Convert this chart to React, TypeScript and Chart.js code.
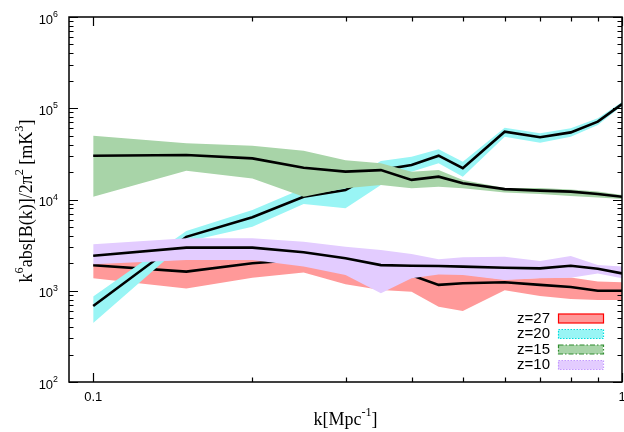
import React, { useEffect, useRef } from "react";
import { Chart, registerables } from "chart.js";

Chart.register(...registerables);

// k values [Mpc^-1]
const kValues = [0.1, 0.15, 0.2, 0.25, 0.3, 0.35, 0.4, 0.45, 0.5, 0.6, 0.7, 0.8, 0.9, 1.0];

// z = 27
const z27Upper = [2000, 2200, 2200, 2400, 2100, 1800, 1600, 1550, 1520, 1330, 1380, 1400, 1260, 1240];
const z27Mid = [1900, 1620, 2000, 2200, 1900, 1600, 1480, 1160, 1210, 1240, 1160, 1100, 1000, 1000];
const z27Lower = [1370, 1060, 1390, 1580, 1180, 1020, 977, 668, 600, 1010, 875, 813, 792, 792];

// z = 20
const z20Upper = [865, 4520, 7670, 13300, 15700, 26400, 29400, 35500, 25900, 61200, 53100, 60200, 77600, 117000];
const z20Mid = [680, 3900, 6380, 10700, 12700, 21000, 23900, 30200, 22000, 55300, 48100, 54400, 71300, 111000];
const z20Lower = [443, 3450, 5030, 8930, 8020, 14400, 20200, 24900, 17800, 48800, 41900, 48800, 65500, 106000];

// z = 15
const z15Upper = [50000, 41300, 38900, 34300, 27000, 24900, 20200, 21000, 16400, 13400, 13400, 12900, 12200, 11200];
const z15Mid = [30200, 30700, 28200, 22300, 20200, 21000, 16400, 17800, 15100, 13000, 12500, 12200, 11500, 10700];
const z15Lower = [10700, 20700, 17000, 10700, 13300, 14400, 13300, 13800, 13300, 11900, 11500, 10900, 10500, 10100];

// z = 10
const z10Upper = [3230, 3760, 3760, 3450, 3040, 2800, 2530, 2210, 2330, 2360, 2120, 2400, 1910, 1840];
const z10Mid = [2420, 2970, 2970, 2640, 2270, 1910, 1880, 1870, 1840, 1790, 1760, 1880, 1740, 1550];
const z10Lower = [1950, 2170, 2170, 1840, 1490, 937, 1370, 1510, 1490, 1310, 1370, 1390, 1550, 1370];

const seriesLabels = ["z=27", "z=20", "z=15", "z=10"];
const yTickExponents = [2, 3, 4, 5, 6];
const xTickLabels = ["0.1", "1"];
const xTickLabelValues = [0.1, 1];
const xMinorTicks = [0.2, 0.3, 0.4, 0.5, 0.6, 0.7, 0.8, 0.9];

const series = [
  { label: seriesLabels[0], upper: z27Upper, mid: z27Mid, lower: z27Lower, fill: "#ff9999", edge: "#ff0000", dash: [] as number[] },
  { label: seriesLabels[1], upper: z20Upper, mid: z20Mid, lower: z20Lower, fill: "#99f5f5", edge: "#00dede", dash: [1.5, 1.5] },
  { label: seriesLabels[2], upper: z15Upper, mid: z15Mid, lower: z15Lower, fill: "#a8d4a8", edge: "#2e8b2e", dash: [5, 2, 1.5, 2] },
  { label: seriesLabels[3], upper: z10Upper, mid: z10Mid, lower: z10Lower, fill: "#e3ccff", edge: "#c49bff", dash: [1.5, 1.5] },
];

const SANS = '"Liberation Sans", Arial, sans-serif';
const SERIF = '"Liberation Serif", "Times New Roman", serif';

type Part = { t: string; sup?: boolean };

function drawRich(ctx: CanvasRenderingContext2D, parts: Part[], x: number, y: number, size: number, family: string, align: "left" | "center" | "right") {
  const supSize = size * 0.68;
  const widths = parts.map((p) => {
    ctx.font = `${p.sup ? supSize : size}px ${family}`;
    return ctx.measureText(p.t).width;
  });
  const total = widths.reduce((a, b) => a + b, 0);
  let cx = align === "center" ? x - total / 2 : align === "right" ? x - total : x;
  ctx.textAlign = "left";
  ctx.textBaseline = "middle";
  parts.forEach((p, i) => {
    ctx.font = `${p.sup ? supSize : size}px ${family}`;
    ctx.fillText(p.t, cx, p.sup ? y - size * 0.4 : y);
    cx += widths[i];
  });
}

const framePlugin = {
  id: "gnuplotFrame",
  afterDraw(chart: any) {
    const ctx: CanvasRenderingContext2D = chart.ctx;
    const { left, right, top, bottom } = chart.chartArea;
    const xs = chart.scales.x;
    const ys = chart.scales.y;
    ctx.save();
    ctx.strokeStyle = "#000";
    ctx.fillStyle = "#000";
    ctx.lineWidth = 1.2;
    ctx.setLineDash([]);
    // ticks
    const major = 9;
    const minor = 4.5;
    ctx.beginPath();
    for (let e = 2; e <= 6; e++) {
      for (let m = 1; m <= 9; m++) {
        const v = m * Math.pow(10, e);
        if (v > 1e6) break;
        const py = Math.round(ys.getPixelForValue(v)) + 0.5;
        const len = m === 1 ? major : minor;
        ctx.moveTo(left, py);
        ctx.lineTo(left + len, py);
        ctx.moveTo(right, py);
        ctx.lineTo(right - len, py);
      }
    }
    const xAll = [...xTickLabelValues.map((v) => ({ v, len: major })), ...xMinorTicks.map((v) => ({ v, len: minor }))];
    xAll.forEach(({ v, len }) => {
      const px = Math.round(xs.getPixelForValue(v)) + 0.5;
      ctx.moveTo(px, bottom);
      ctx.lineTo(px, bottom - len);
      ctx.moveTo(px, top);
      ctx.lineTo(px, top + len);
    });
    ctx.stroke();
    // frame
    ctx.lineWidth = 1.5;
    ctx.strokeRect(left, top, right - left, bottom - top);

    // y tick labels
    yTickExponents.forEach((e) => {
      const py = ys.getPixelForValue(Math.pow(10, e));
      drawRich(ctx, [{ t: "10" }, { t: String(e), sup: true }], 58, py + 3, 13, SANS, "right");
    });
    // x tick labels
    xTickLabels.forEach((lab, i) => {
      const px = xs.getPixelForValue(xTickLabelValues[i]);
      drawRich(ctx, [{ t: lab }], px, bottom + 15, 13, SANS, "center");
    });
    // axis titles
    drawRich(ctx, [{ t: "k[Mpc" }, { t: "-1", sup: true }, { t: "]" }], (left + right) / 2, 420, 18, SERIF, "center");
    ctx.save();
    ctx.translate(27, 201);
    ctx.rotate(-Math.PI / 2);
    drawRich(
      ctx,
      [{ t: "k" }, { t: "6", sup: true }, { t: "abs[B(k)]/2π" }, { t: "2", sup: true }, { t: " [mK" }, { t: "3", sup: true }, { t: "]" }],
      0,
      0,
      18,
      SERIF,
      "center"
    );
    ctx.restore();

    // legend
    const rowY = [318.5, 334, 349.5, 365];
    series.forEach((s, i) => {
      const y = rowY[i];
      ctx.fillStyle = "#000";
      drawRich(ctx, [{ t: s.label }], 550, y, 15, SANS, "right");
      ctx.fillStyle = s.fill;
      ctx.fillRect(558, y - 4.5, 45, 9);
      ctx.strokeStyle = s.edge;
      ctx.lineWidth = 1.2;
      ctx.setLineDash(s.dash);
      ctx.strokeRect(558.5, y - 4.5, 45, 9);
      ctx.setLineDash([]);
    });
    ctx.restore();
  },
};

export default function App() {
  const ref = useRef<HTMLCanvasElement | null>(null);
  useEffect(() => {
    if (!ref.current) return;
    const datasets: any[] = [];
    series.forEach((s, g) => {
      const base = 100 - g * 10;
      datasets.push({
        label: s.label + " upper",
        data: kValues.map((k, i) => ({ x: k, y: s.upper[i] })),
        borderColor: "rgba(0,0,0,0)",
        borderWidth: 0,
        backgroundColor: s.fill,
        fill: "+1",
        pointRadius: 0,
        tension: 0,
        order: base,
      });
      datasets.push({
        label: s.label + " lower",
        data: kValues.map((k, i) => ({ x: k, y: s.lower[i] })),
        borderColor: "rgba(0,0,0,0)",
        borderWidth: 0,
        fill: false,
        pointRadius: 0,
        tension: 0,
        order: base - 1,
      });
      datasets.push({
        label: s.label,
        data: kValues.map((k, i) => ({ x: k, y: s.mid[i] })),
        borderColor: "#000",
        borderWidth: 2.6,
        fill: false,
        pointRadius: 0,
        tension: 0,
        order: base - 2,
      });
    });
    const chart = new Chart(ref.current, {
      type: "line",
      data: { datasets },
      options: {
        animation: false,
        responsive: false,
        maintainAspectRatio: false,
        layout: { padding: { left: 69, right: 2, top: 17, bottom: 50 } },
        scales: {
          x: { type: "logarithmic", min: 0.09, max: 1, display: false },
          y: { type: "logarithmic", min: 100, max: 1e6, display: false },
        },
        plugins: {
          legend: { display: false },
          tooltip: { enabled: false },
          filler: { drawTime: "beforeDatasetDraw" },
        } as any,
      },
      plugins: [framePlugin],
    });
    return () => chart.destroy();
  }, []);
  return (
    <div style={{ position: "fixed", left: 0, top: 0, width: 624, height: 432, background: "#fff" }}>
      <canvas ref={ref} width={624} height={432} />
    </div>
  );
}
